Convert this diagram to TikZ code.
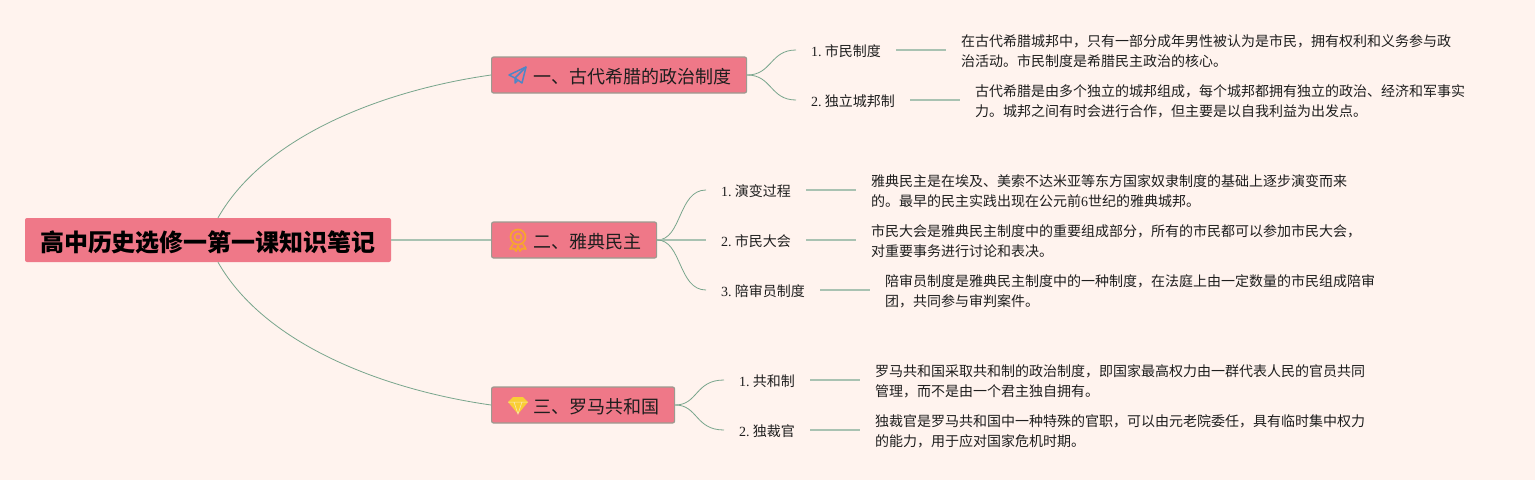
\documentclass[tikz,border=0pt]{standalone}
\usepackage{fontspec}
\setmainfont{Liberation Serif}
\newfontfamily\cjk{Noto Sans CJK SC}
\newfontfamily\latn{Liberation Serif}
\usetikzlibrary{calc,positioning}
\definecolor{paper}{HTML}{FFF3EE}
\definecolor{rosefill}{HTML}{EF7888}
\definecolor{roseedge}{HTML}{9C9A90}
\definecolor{twig}{HTML}{78A58C}
\definecolor{stub}{HTML}{A9C2B2}
\definecolor{ink}{HTML}{1E1E1E}
\definecolor{planeblue}{HTML}{4F86C6}
\definecolor{medalorange}{HTML}{F8A62C}
\definecolor{gemyellow}{HTML}{F9CE35}

\begin{document}
\begin{tikzpicture}[
	%	style def
    x=1pt, y=-1pt,
    rootbox/.style={fill=rosefill, rounded corners=2pt, inner xsep=15pt, inner ysep=0pt, minimum height=44pt, text height=23pt, text depth=-1pt, text=black, font=\cjk\bfseries\fontsize{24}{28}\selectfont},
    branchbox/.style={fill=rosefill, draw=roseedge, line width=1.2pt, rounded corners=2pt, inner xsep=15pt, inner ysep=0pt, minimum height=36pt, text height=17pt, text depth=0pt, text=ink, font=\cjk\fontsize{18}{22}\selectfont},
    topic/.style={anchor=west, inner xsep=15pt, inner ysep=3pt, text height=14pt, text depth=0.4pt, text=ink, font=\cjk\fontsize{14}{20}\selectfont},
    detail/.style={anchor=west, align=left, inner xsep=15pt, inner ysep=2pt, text=ink, font=\cjk\fontsize{14}{20}\selectfont},
    curve line/.style={draw=twig, line width=0.8pt},
    stub line/.style={draw=stub, line width=1.4pt}
    ]

	% page
	\fill[paper] (0,0) rectangle (1535,480);

	% main nodes
	\node[rootbox] (root) at (208,240) {高中历史选修一第一课知识笔记};
	\node[branchbox, anchor=west] (greece) at (491,75) {\hspace*{27pt}一、古代希腊的政治制度};
	\node[branchbox, anchor=west] (athens) at (491,240) {\hspace*{27pt}二、雅典民主};
	\node[branchbox, anchor=west] (rome) at (491,405) {\hspace*{27pt}三、罗马共和国};

	% topics and their texts
	\node[topic] (citizen) at (796,50) {{\latn 1. }\kern-1.5pt市民制度};
	\node[detail] (citizentext) at (946,51.5) {在古代希腊城邦中，只有一部分成年男性被认为是市民，拥有权利和义务参与政\\治活动。市民制度是希腊民主政治的核心。};
	\node[topic] (polis) at (796,100) {{\latn 2. }\kern-1.5pt独立城邦制};
	\node[detail] (polistext) at (960,101.5) {古代希腊是由多个独立的城邦组成，每个城邦都拥有独立的政治、经济和军事实\\力。城邦之间有时会进行合作，但主要是以自我利益为出发点。};

	\node[topic] (origin) at (706,190) {{\latn 1. }\kern-1.5pt演变过程};
	\node[detail] (origintext) at (856,191.5) {雅典民主是在埃及、美索不达米亚等东方国家奴隶制度的基础上逐步演变而来\\的。最早的民主实践出现在公元前{\latn 6}世纪的雅典城邦。};
	\node[topic] (assembly) at (706,240) {{\latn 2. }\kern-1.5pt市民大会};
	\node[detail] (assemblytext) at (856,241.5) {市民大会是雅典民主制度中的重要组成部分，所有的市民都可以参加市民大会，\\对重要事务进行讨论和表决。};
	\node[topic] (jury) at (706,290) {{\latn 3. }\kern-1.5pt陪审员制度};
	\node[detail] (jurytext) at (870,291.5) {陪审员制度是雅典民主制度中的一种制度，在法庭上由一定数量的市民组成陪审\\团，共同参与审判案件。};

	\node[topic] (republic) at (724,380) {{\latn 1. }\kern-1.5pt共和制};
	\node[detail] (republictext) at (860,381.5) {罗马共和国采取共和制的政治制度，即国家最高权力由一群代表人民的官员共同\\管理，而不是由一个君主独自拥有。};
	\node[topic] (dictator) at (724,430) {{\latn 2. }\kern-1.5pt独裁官};
	\node[detail] (dictatortext) at (860,431.5) {独裁官是罗马共和国中一种特殊的官职，可以由元老院委任，具有临时集中权力\\的能力，用于应对国家危机时期。};

	% root to branches
	\draw[curve line] ([xshift=10pt]root.north) .. controls (265,135) and (385,90) .. (greece.west);
	\draw[stub line] (root.east) -- (athens.west);
	\draw[curve line] ([xshift=10pt]root.south) .. controls (265,345) and (385,390) .. (rome.west);

	% branches to topics
	\draw[curve line] (greece.east) .. controls (772,75) and (770,50) .. (citizen.west);
	\draw[curve line] (greece.east) .. controls (772,75) and (770,100) .. (polis.west);
	\draw[curve line] (athens.east) .. controls (682,240) and (678,190) .. (origin.west);
	\draw[stub line] (athens.east) -- (assembly.west);
	\draw[curve line] (athens.east) .. controls (682,240) and (678,290) .. (jury.west);
	\draw[curve line] (rome.east) .. controls (698,405) and (695,380) .. (republic.west);
	\draw[curve line] (rome.east) .. controls (698,405) and (695,430) .. (dictator.west);

	% topics to texts
	\foreach \a/\b in {citizen/citizentext, polis/polistext, origin/origintext, assembly/assemblytext, jury/jurytext, republic/republictext, dictator/dictatortext}
		\draw[stub line] (\a.east) -- (\a.east -| \b.west);

	% plane icon
	\begin{scope}[shift={(518,75)}, draw=planeblue, line width=1.5pt, line join=round]
		\draw (-9,0) -- (8,-8) -- (4,8) -- (-3,3) -- cycle;
		\draw (8,-8) -- (-3,3) -- (-3,8) -- (0,5);
	\end{scope}
	% medal icon
	\begin{scope}[shift={(518,238)}, draw=medalorange, line width=1.7pt]
		\draw (0,-1) circle (7.5pt);
		\draw (0,-1) circle (3.5pt);
		\draw[line join=round] (-5,6) -- (-8,11) -- (-4,10.5) -- (-2,13) -- (0,8) -- (2,13) -- (4,10.5) -- (8,11) -- (5,6);
	\end{scope}
	% gem icon
	\begin{scope}[shift={(518,405)}]
		\fill[gemyellow] (-5,-8) -- (5,-8) -- (10,-3) -- (0,9) -- (-10,-3) -- cycle;
		\draw[paper!70!gemyellow, line width=0.5pt] (-10,-3) -- (10,-3) (-4,-3) -- (0,9) -- (4,-3);
	\end{scope}
\end{tikzpicture}
\end{document}
